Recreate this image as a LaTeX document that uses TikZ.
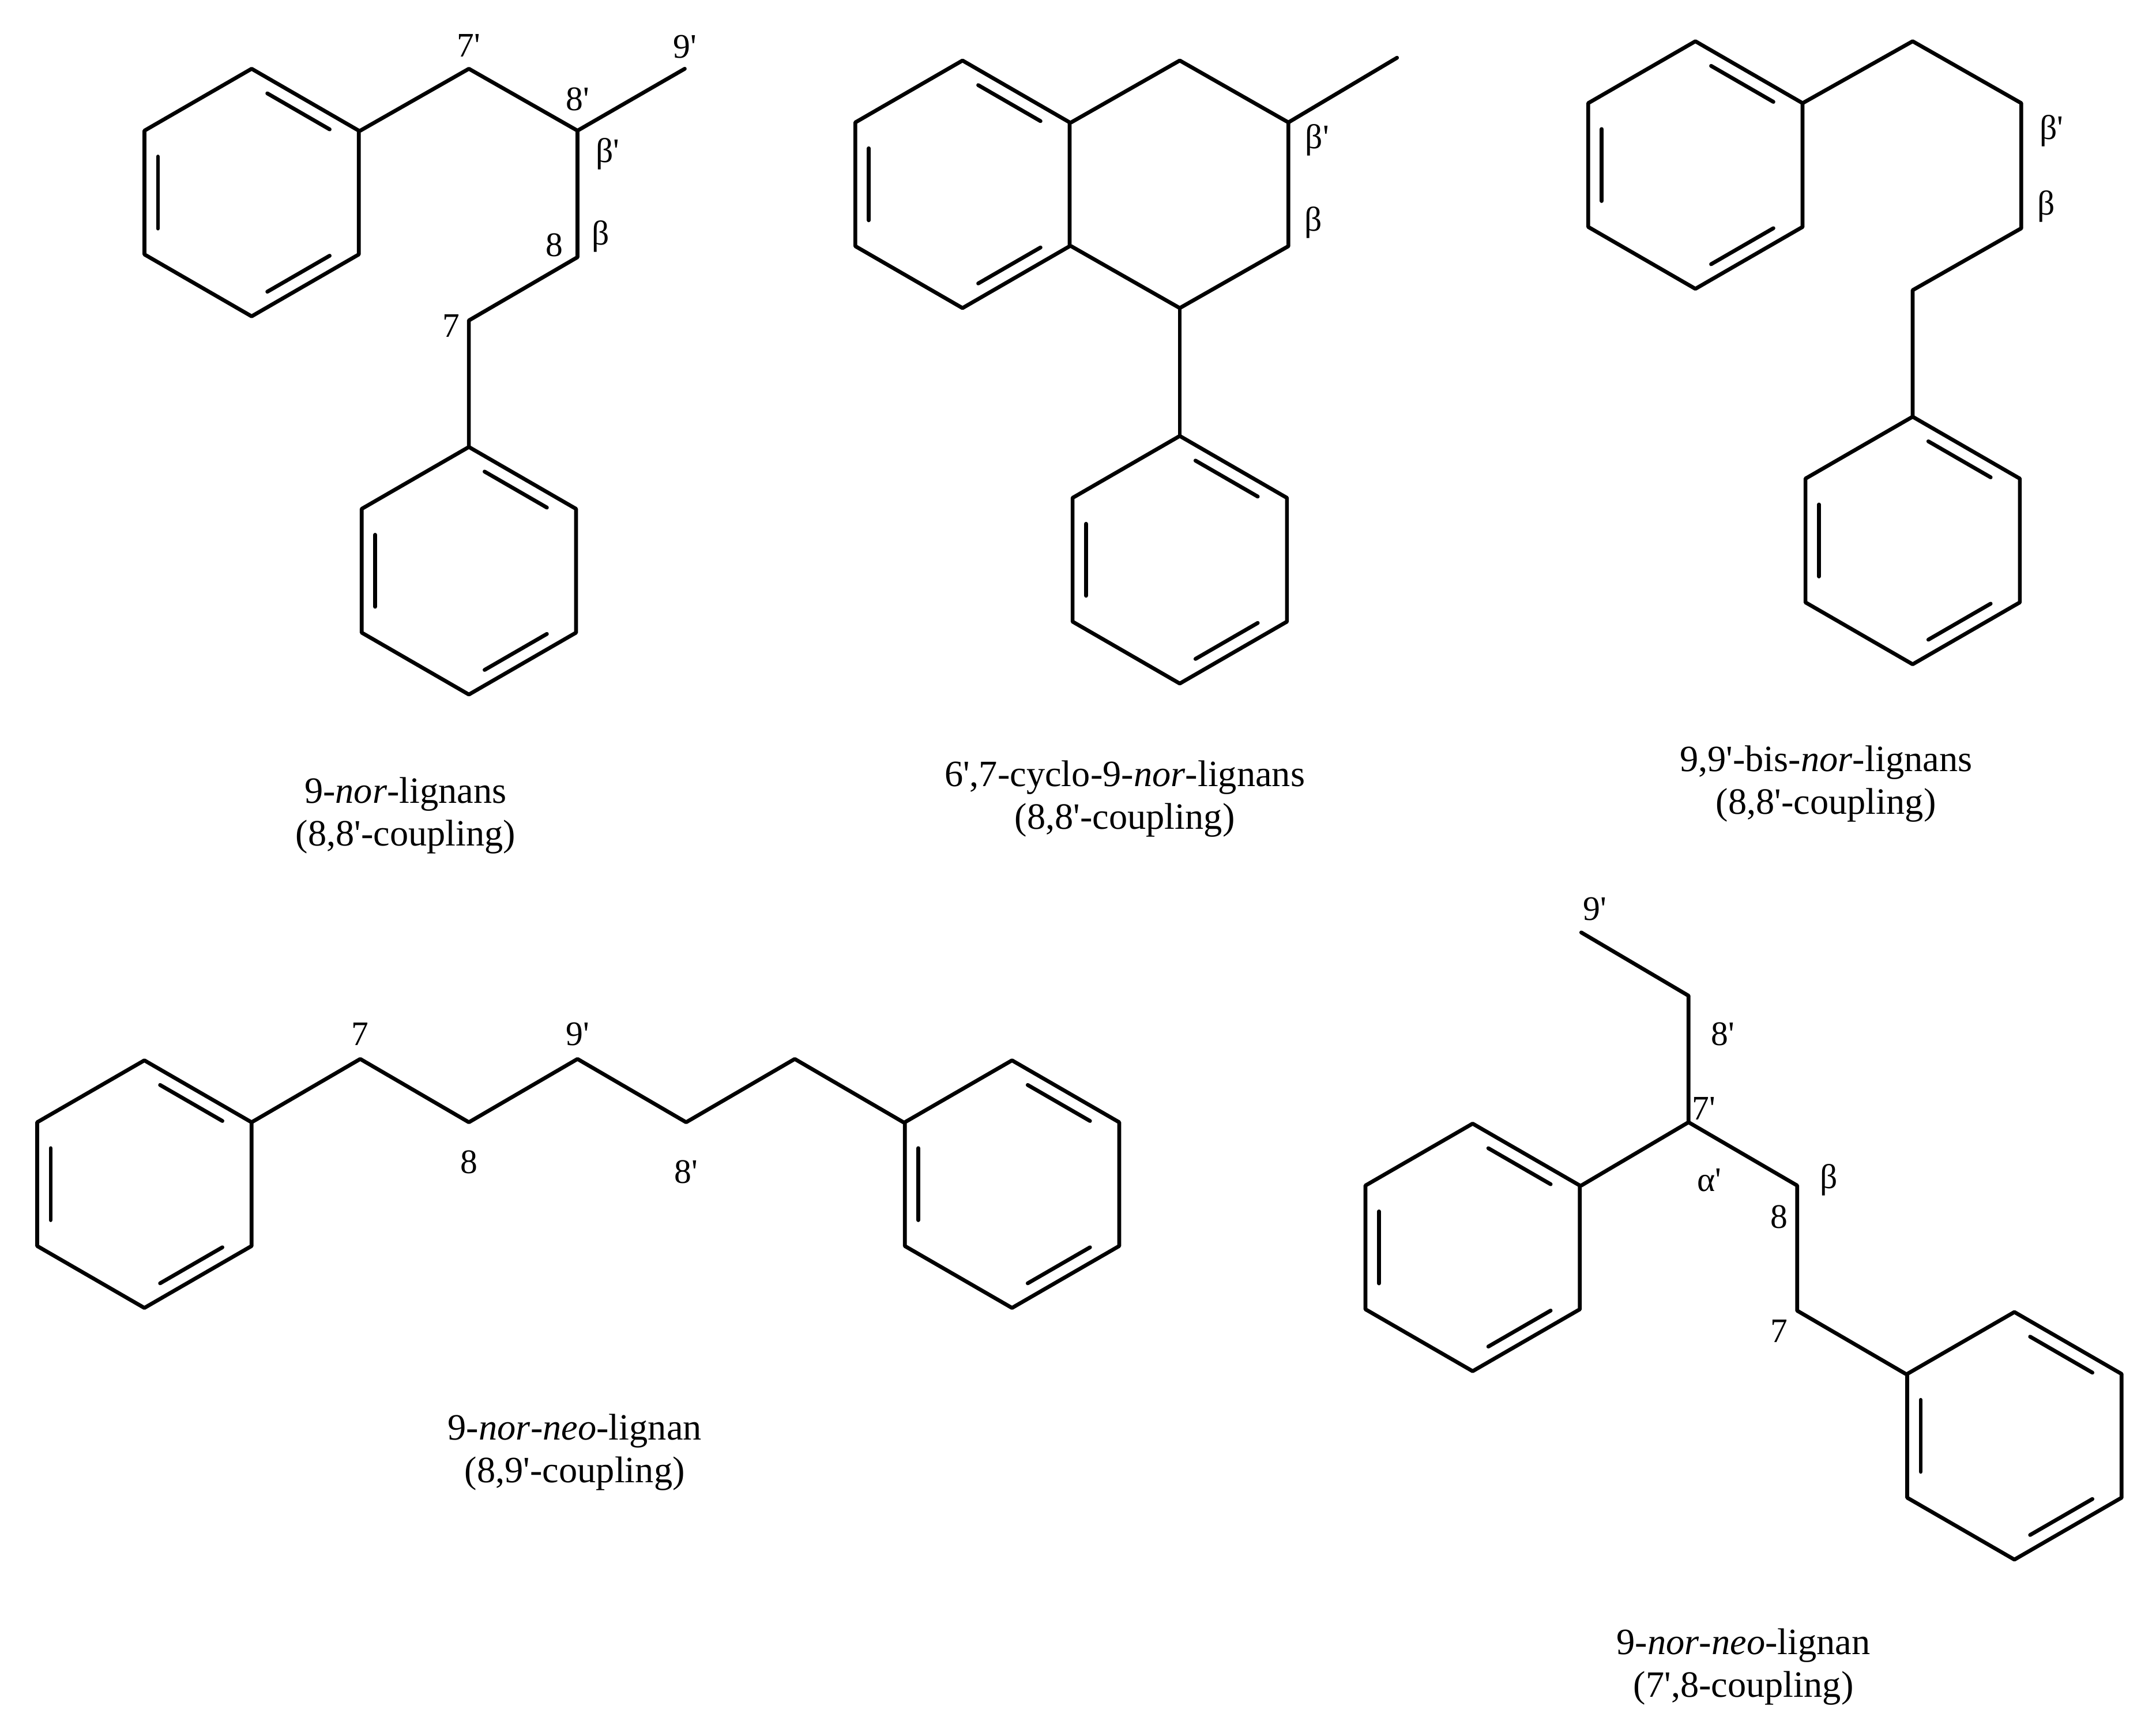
\documentclass[tikz,border=0pt]{standalone}
\usepackage{fontspec}
\setmainfont{Liberation Serif}[Ligatures=TeXOff]
\newcommand\pr{'}
\newcommand\benz[2]{\begin{scope}[shift={(#1,#2)}]
\draw[bond] (90:90)--(30:90)--(-30:90)--(-90:90)--(-150:90)--(150:90)--cycle;
\foreach \a in {90,-30,-150}{\draw[bond] (\a-9:73)--(\a-51:73);}
\end{scope}}
\begin{document}
\begin{tikzpicture}[x=1pt,y=-1pt,bond/.style={line width=2.8pt,line join=round,line cap=round},
lab/.style={font=\fontsize{25}{27}\selectfont,inner sep=0pt},
captext/.style={font=\fontsize{27}{31}\selectfont,inner sep=0pt,align=center}]
\useasboundingbox[fill=white] (0,0) rectangle (1568,1262);
% molecule 1
\benz{183}{140}
\benz{341}{415}
\draw[bond] (262,95)--(341,50)--(420,95)--(498,50);
\draw[bond] (420,95)--(420,187)--(341,233)--(341,325);
\node[lab] (l1a) at (341,33) {7\pr};
\node[lab] (l1b) at (420,72) {8\pr};
\node[lab] (l1c) at (498,34) {9\pr};
\node[lab] (l1d) at (442,112) {β\pr};
\node[lab] (l1e) at (403,178) {8};
\node[lab] (l1f) at (437,172) {β};
\node[lab] (l1g) at (328,237) {7};
\node[captext] (c1) at (295,593) {9-\textit{nor}-lignans\\(8,8\pr-coupling)};
% molecule 2
\benz{700}{134}
\draw[bond] (779,89)--(858,44)--(937,89)--(937,179)--(858,224)--(779,179);
\draw[bond] (937,89)--(1016,42);
\draw[bond] (858,224)--(858,317);
\benz{858}{407}
\node[lab] (l2a) at (958,102) {β\pr};
\node[lab] (l2b) at (955,162) {β};
\node[captext] (c2) at (818,581) {6\pr,7-cyclo-9-\textit{nor}-lignans\\(8,8\pr-coupling)};
% molecule 3
\benz{1233}{120}
\draw[bond] (1311,75)--(1391,30)--(1470,75)--(1470,166)--(1391,211)--(1391,303);
\benz{1391}{393}
\node[lab] (l3a) at (1492,95) {β\pr};
\node[lab] (l3b) at (1488,150) {β};
\node[captext] (c3) at (1328,570) {9,9\pr-bis-\textit{nor}-lignans\\(8,8\pr-coupling)};
% molecule 4
\benz{105}{861}
\benz{736}{861}
\draw[bond] (183,816)--(262,770)--(341,816)--(420,770)--(499,816)--(578,770)--(657,816);
\node[lab] (l4a) at (262,752) {7};
\node[lab] (l4b) at (341,845) {8};
\node[lab] (l4c) at (420,752) {9\pr};
\node[lab] (l4d) at (499,852) {8\pr};
\node[captext] (c4) at (418,1056) {9-\textit{nor}-\textit{neo}-lignan\\(8,9\pr-coupling)};
% molecule 5
\benz{1071}{907}
\benz{1465}{1044}
\draw[bond] (1150,678)--(1228,724)--(1228,816)--(1150,862);
\draw[bond] (1228,816)--(1307,862)--(1307,953)--(1386,999);
\node[lab] (l5a) at (1160,661) {9\pr};
\node[lab] (l5b) at (1253,752) {8\pr};
\node[lab] (l5c) at (1239,806) {7\pr};
\node[lab] (l5d) at (1243,858) {α\pr};
\node[lab] (l5e) at (1330,858) {β};
\node[lab] (l5f) at (1294,885) {8};
\node[lab] (l5g) at (1294,968) {7};
\node[captext] (c5) at (1268,1212) {9-\textit{nor}-\textit{neo}-lignan\\(7\pr,8-coupling)};
\end{tikzpicture}
\end{document}
